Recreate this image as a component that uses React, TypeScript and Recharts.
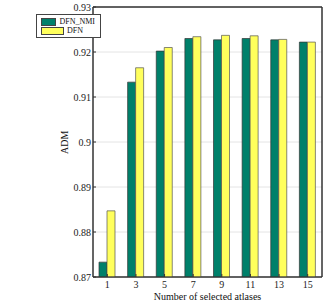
import { BarChart, Bar, XAxis, YAxis, CartesianGrid, Legend, ReferenceArea } from 'recharts';

const atlases = ['1', '3', '5', '7', '9', '11', '13', '15'];
const dfnNmi = [0.8733, 0.9133, 0.9202, 0.9230, 0.9227, 0.9230, 0.9227, 0.9222];
const dfn = [0.8847, 0.9165, 0.9210, 0.9234, 0.9237, 0.9236, 0.9228, 0.9222];
const yTicks = [0.87, 0.88, 0.89, 0.9, 0.91, 0.92, 0.93];

const FONT = "'Liberation Serif', 'Times New Roman', serif";
const GREEN = '#00806a';
const YELLOW = '#ffff5c';

const data = atlases.map((a, i) => ({ atlas: a, nmi: dfnNmi[i], dfn: dfn[i] }));

function LegendBox() {
  const row = (color: string, label: string) => (
    <div style={{ display: 'flex', alignItems: 'center', height: 9 }}>
      <div style={{ width: 21, height: 6, background: color, border: '0.7px solid #444', marginRight: 3 }} />
      <span style={{ fontFamily: FONT, fontSize: 8, color: '#111', lineHeight: '9px' }}>{label}</span>
    </div>
  );
  return (
    <div style={{ border: '1px solid #444', background: '#fff', padding: '2px 5px 2px 4px', width: 54, fontFamily: FONT }}>
      {row(GREEN, 'DFN_NMI')}
      {row(YELLOW, 'DFN')}
    </div>
  );
}

export default function App() {
  return (
    <div style={{ position: 'absolute', left: 0, top: 0, width: 327, height: 301, background: '#fff', fontFamily: FONT }}>
      <BarChart
        width={327}
        height={301}
        data={data}
        margin={{ top: 0, right: 0, left: 0, bottom: 0 }}
        barCategoryGap="21%"
        barGap={0}
        style={{ fontFamily: FONT }}
      >
        <CartesianGrid vertical={false} stroke="#e4e4e4" />
        <XAxis
          dataKey="atlas"
          height={24}
          stroke="#333"
          tickSize={-3}
          tickMargin={7}
          tick={{ fontFamily: FONT, fontSize: 10, fill: '#222' }}
          label={{ value: 'Number of selected atlases', position: 'insideBottom', offset: 1, fontFamily: FONT, fontSize: 10, fill: '#111' }}
        />
        <XAxis xAxisId="top" dataKey="atlas" orientation="top" height={7} stroke="#333" tickSize={-3} tick={false} />
        <YAxis
          width={28}
          domain={[0.87, 0.93]}
          ticks={yTicks}
          allowDataOverflow
          stroke="#333"
          tickSize={-3}
          tickMargin={5}
          tickFormatter={(v: number) => String(Number(v.toFixed(2)))}
          tick={{ fontFamily: FONT, fontSize: 10, fill: '#222' }}
          label={{ value: 'ADM', angle: -90, position: 'insideLeft', offset: -1, dy: 12, fontFamily: FONT, fontSize: 10, fill: '#111' }}
        />
        <YAxis yAxisId="right" orientation="right" width={5} domain={[0.87, 0.93]} ticks={yTicks} stroke="#333" tickSize={-3} tick={false} />
        <ReferenceArea y1={0.87} y2={0.93} fill="none" stroke="#333" strokeWidth={1} ifOverflow="visible" />
        <Legend
          verticalAlign="top"
          align="left"
          layout="vertical"
          wrapperStyle={{ left: 36, top: 14, width: 'auto' }}
          content={() => <LegendBox />}
        />
        <Bar dataKey="nmi" name="DFN_NMI" fill={GREEN} stroke="#333" strokeWidth={0.7} isAnimationActive={false} />
        <Bar dataKey="dfn" name="DFN" fill={YELLOW} stroke="#555" strokeWidth={0.7} isAnimationActive={false} />
      </BarChart>
    </div>
  );
}
